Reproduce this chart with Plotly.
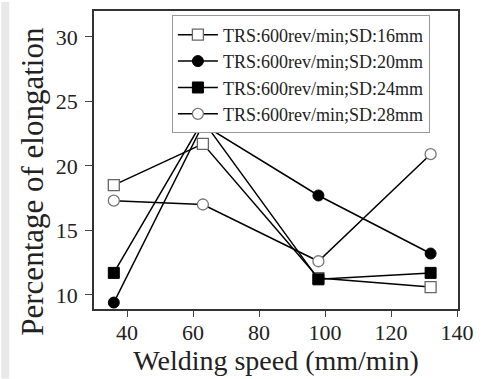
import plotly.graph_objects as go

speed = [36, 63, 98, 132]
sd16 = [18.5, 21.7, 11.3, 10.6]
sd20 = [9.4, 23.2, 17.7, 13.2]
sd24 = [11.7, 23.5, 11.2, 11.7]
sd28 = [17.3, 17.0, 12.6, 20.9]
names = ["TRS:600rev/min;SD:16mm", "TRS:600rev/min;SD:20mm",
         "TRS:600rev/min;SD:24mm", "TRS:600rev/min;SD:28mm"]
x_ticks = [40, 60, 80, 100, 120, 140]
y_ticks = [10, 15, 20, 25, 30]

styles = [
    dict(symbol="square", color="white", line=dict(color="#666", width=1.3)),
    dict(symbol="circle", color="black", line=dict(color="black", width=1)),
    dict(symbol="square", color="black", line=dict(color="black", width=1)),
    dict(symbol="circle", color="white", line=dict(color="#777", width=1.3)),
]

fig = go.Figure()
for ys, nm, st in zip([sd16, sd20, sd24, sd28], names, styles):
    fig.add_trace(go.Scatter(
        x=speed, y=ys, name=nm, mode="lines+markers",
        line=dict(color="black", width=1.5),
        marker=dict(size=11, **st),
    ))

font = "Liberation Serif, Times New Roman, serif"
fig.update_layout(
    width=483, height=379,
    margin=dict(l=94, r=20, t=9, b=70),
    paper_bgcolor="white", plot_bgcolor="white",
    font=dict(family=font, color="#222"),
    showlegend=True,
    legend=dict(x=0.214, y=0.985, xanchor="left", yanchor="top",
                bgcolor="white", bordercolor="#999", borderwidth=1,
                font=dict(size=18, family=font, color="#222"),
                tracegroupgap=0, itemwidth=40),
    xaxis=dict(range=[30, 140.3], tickvals=x_ticks, ticks="outside", ticklen=6,
               showline=True, linecolor="#333", linewidth=1.5, mirror=True,
               showgrid=False, zeroline=False, ticklabelstandoff=-3,
               tickfont=dict(size=22, family=font),
               title=dict(text="Welding speed (mm/min)", font=dict(size=28, family=font), standoff=3)),
    yaxis=dict(range=[8.9, 32], tickvals=y_ticks, ticks="outside", ticklen=7,
               showline=True, linecolor="#333", linewidth=1.5, mirror=True,
               showgrid=False, zeroline=False, ticklabelstandoff=3,
               tickfont=dict(size=22, family=font)),
)
fig.add_annotation(text="Percentage of elongation", textangle=-90,
                   xref="paper", yref="paper", x=-0.168, y=0.43,
                   xanchor="center", yanchor="middle", showarrow=False,
                   font=dict(size=31, family=font, color="#222"))
fig.add_shape(type="rect", xref="paper", yref="paper", x0=-94/369, x1=-86/369, y0=-70/300, y1=1+9/300,
              fillcolor="#e8e8e8", line=dict(width=0), layer="below")
fig.write_html("out.html", config={"displayModeBar": False},
               post_script="document.body.style.margin='0';document.body.style.overflow='hidden';")
